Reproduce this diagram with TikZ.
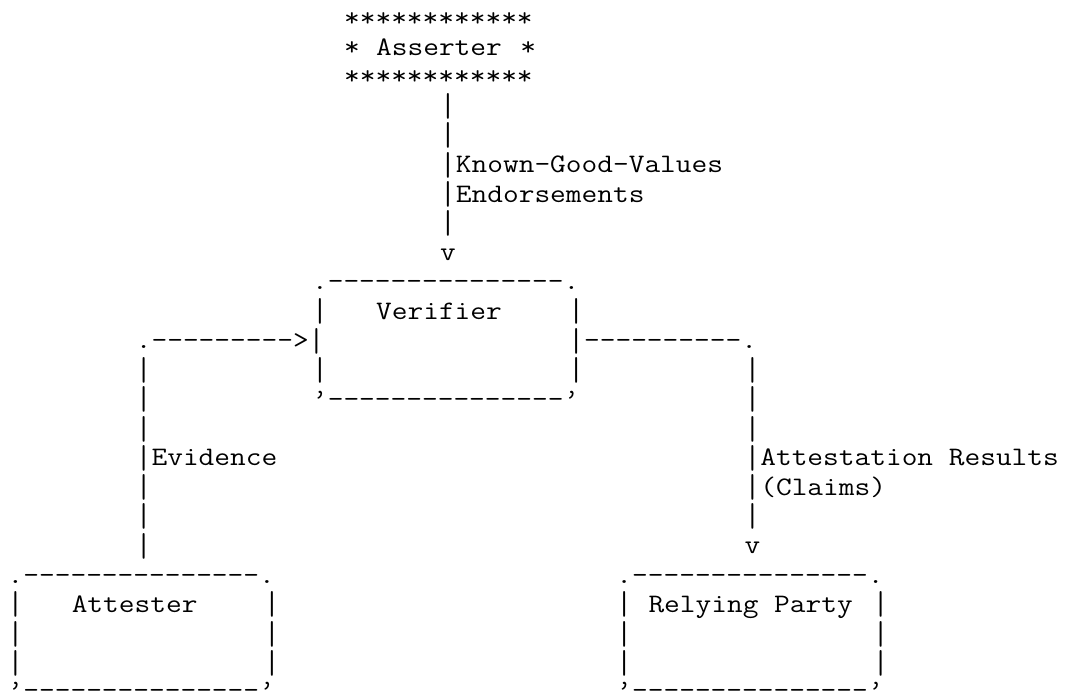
\documentclass[tikz,border=0pt]{standalone}
\usepackage{fontspec}
\setmonofont{Latin Modern Mono}[FakeStretch=1.1428]
\newcommand\asciicell[4]{\node[txt] (#1) at ({7.7+#2*16.02},{26.3+(#3-1)*29.3}) {#4};}
\newcommand\lowrow[1]{\raisebox{2pt}[\height][-8pt]{#1}}
\newcommand\vb{\raisebox{-2.5pt}[17pt][3pt]{\scalebox{1}[1.24]{|}}}
\begin{document}
\begin{tikzpicture}[x=1pt,y=-1pt,
  txt/.style={anchor=base west, inner sep=0pt, outer sep=0pt,
    font=\ttfamily\fontsize{26.7}{29.3}\selectfont, text=black}]
\useasboundingbox (0,0) rectangle (1072,695);
% Asserter
\asciicell{asA}{21}{1}{************}
\asciicell{asB}{21}{2}{*}
\asciicell{asName}{23}{2}{Asserter}
\asciicell{asC}{32}{2}{*}
\asciicell{asD}{21}{3}{************}
% Asserter -> Verifier
\asciicell{kA}{27}{4}{\vb}
\asciicell{kB}{27}{5}{\vb}
\asciicell{kC}{27}{6}{\vb Known-Good-Values}
\asciicell{kD}{27}{7}{\vb Endorsements}
\asciicell{kE}{27}{8}{\vb}
\asciicell{kV}{27}{9}{v}
% Verifier box
\asciicell{vTop}{19}{10}{.---------------.}
\asciicell{vL1}{19}{11}{\vb}
\asciicell{vName}{23}{11}{Verifier}
\asciicell{vR1}{35}{11}{\vb}
\asciicell{eArrow}{8}{12}{.--------->\vb}
\asciicell{rOut}{35}{12}{\vb----------.}
\asciicell{eA}{8}{13}{\vb}
\asciicell{vL3}{19}{13}{\vb}
\asciicell{vR3}{35}{13}{\vb}
\asciicell{rA}{46}{13}{\vb}
\asciicell{eB}{8}{14}{\vb}
\asciicell{vBot}{19}{14}{’---------------’}
\asciicell{rB}{46}{14}{\vb}
% vertical connectors
\asciicell{eC}{8}{15}{\vb}
\asciicell{rC}{46}{15}{\vb}
\asciicell{eD}{8}{16}{\vb Evidence}
\asciicell{rD}{46}{16}{\vb Attestation Results}
\asciicell{eE}{8}{17}{\vb}
\asciicell{rE}{46}{17}{\vb(Claims)}
\asciicell{eF}{8}{18}{\vb}
\asciicell{rF}{46}{18}{\vb}
\asciicell{eG}{8}{19}{\vb}
\asciicell{rV}{46}{19}{v}
% Attester box
\asciicell{aTop}{0}{20}{.---------------.}
\asciicell{aL1}{0}{21}{\vb}
\asciicell{aName}{4}{21}{Attester}
\asciicell{aR1}{16}{21}{\vb}
\asciicell{aL2}{0}{22}{\vb}
\asciicell{aR2}{16}{22}{\vb}
\asciicell{aL3}{0}{23}{\vb}
\asciicell{aR3}{16}{23}{\vb}
\asciicell{aBot}{0}{24}{\lowrow{’---------------’}}
% Relying Party box
\asciicell{pTop}{38}{20}{.---------------.}
\asciicell{pL1}{38}{21}{\vb}
\asciicell{pName}{40}{21}{Relying Party}
\asciicell{pR1}{54}{21}{\vb}
\asciicell{pL2}{38}{22}{\vb}
\asciicell{pR2}{54}{22}{\vb}
\asciicell{pL3}{38}{23}{\vb}
\asciicell{pR3}{54}{23}{\vb}
\asciicell{pBot}{38}{24}{\lowrow{’---------------’}}
\end{tikzpicture}
\end{document}
